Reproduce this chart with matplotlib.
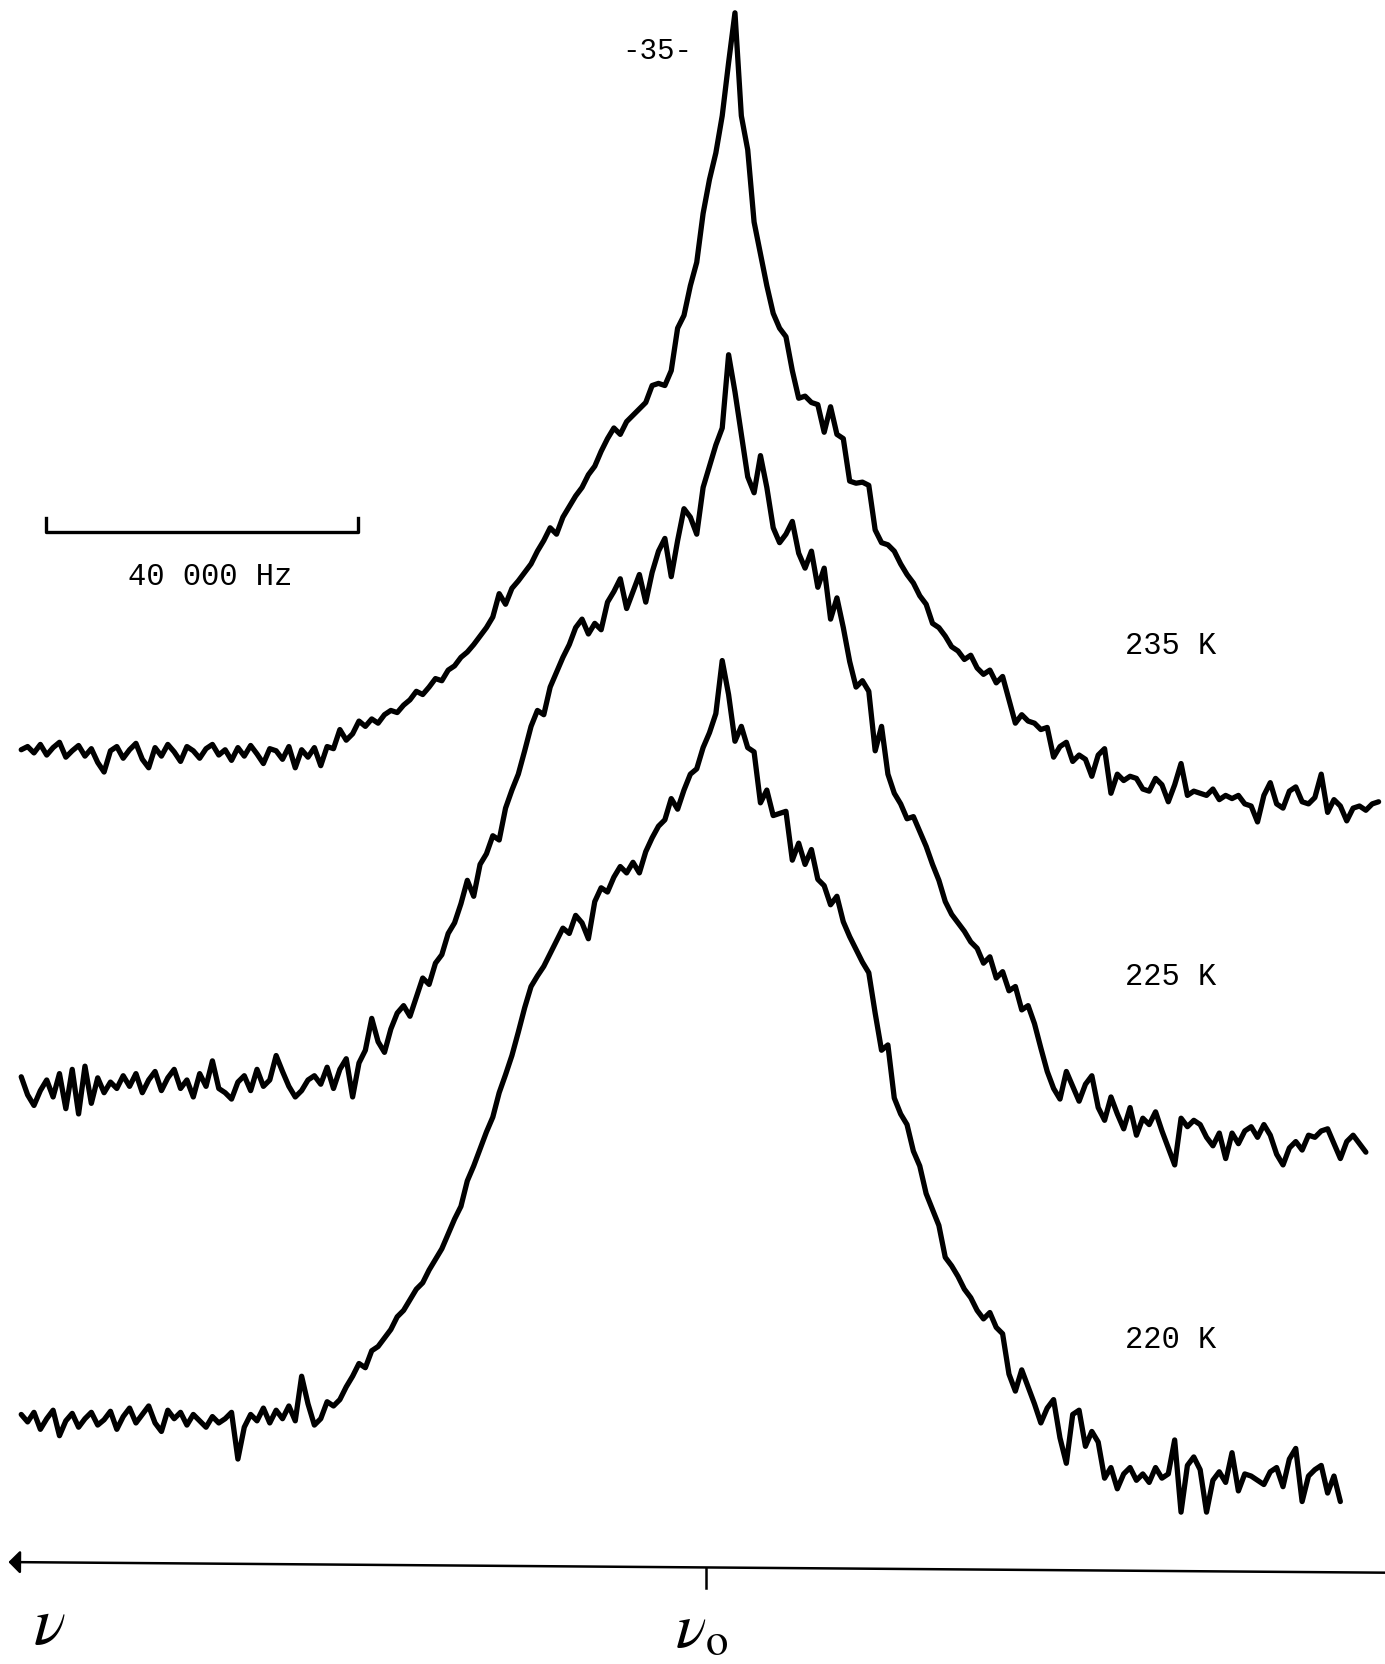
import numpy as np
import matplotlib.pyplot as plt

plt.rcParams['mathtext.fontset'] = 'stix'

# Spectra. Intensity in arbitrary units above each baseline,
# sampled on a uniform frequency grid (kHz, nu - nu0; nu grows to the left).
int_235 = [3, 6, 0, 8, -2, 5, 10, -4, 2, 7,
           -3, 4, -9, -18, 2, 6, -5, 3, 9, -6,
           -14, 5, -3, 8, 1, -8, 6, 2, -5, 4,
           8, -2, 3, -7, 5, -3, 7, -1, -10, 4,
           2, -6, 6, -14, 3, -4, 5, -12, 6, 4,
           22, 12, 18, 30, 25, 32, 28, 36, 40, 38,
           45, 50, 58, 55, 62, 70, 68, 78, 82, 90,
           95, 102, 110, 118, 128, 150, 140, 155, 162, 170,
           178, 190, 200, 212, 206, 222, 232, 242, 250, 262,
           270, 284, 296, 306, 300, 312, 318, 324, 330, 346,
           348, 346, 360, 400, 412, 440, 462, 508, 540, 565,
           600, 650, 697, 600, 568, 500, 470, 440, 414, 400,
           392, 360, 334, 336, 330, 328, 302, 326, 300, 296,
           256, 254, 255, 252, 210, 198, 196, 190, 178, 168,
           160, 148, 140, 122, 118, 110, 100, 96, 88, 92,
           80, 74, 78, 66, 72, 50, 28, 36, 30, 28,
           22, 24, -4, 6, 10, -8, -2, -6, -22, -2,
           4, -38, -20, -26, -22, -24, -34, -36, -24, -30,
           -46, -30, -10, -40, -36, -38, -40, -34, -44, -40,
           -43, -40, -48, -50, -65, -40, -28, -48, -52, -36,
           -32, -46, -48, -42, -20, -56, -44, -50, -64, -52,
           -50, -54, -48, -46]

int_225 = [5, -12, -22, -8, 2, -14, 8, -25, 12, -30,
           15, -20, 4, -10, 0, -6, 6, -4, 8, -10,
           2, 10, -8, 4, 12, -6, 2, -14, 8, -4,
           20, -6, -10, -16, 0, 6, -8, 12, -4, 2,
           25, 10, -4, -14, -8, 2, 6, -2, 14, -6,
           12, 22, -14, 18, 30, 60, 38, 28, 50, 65,
           72, 62, 80, 98, 92, 112, 120, 140, 150, 168,
           190, 175, 205, 215, 232, 228, 258, 275, 290, 312,
           335, 350, 346, 372, 386, 400, 412, 428, 436, 422,
           432, 426, 452, 462, 474, 446, 462, 478, 452, 480,
           500, 512, 476, 510, 540, 532, 516, 560, 580, 600,
           616, 685, 650, 610, 570, 555, 590, 560, 522, 508,
           516, 528, 498, 484, 500, 466, 484, 436, 456, 428,
           396, 372, 378, 368, 312, 335, 290, 272, 262, 248,
           250, 236, 222, 205, 190, 170, 158, 150, 142, 132,
           126, 112, 118, 98, 104, 86, 90, 68, 72, 55,
           32, 10, -6, -16, 10, -4, -18, -2, 6, -24,
           -36, -14, -30, -44, -24, -50, -34, -40, -28, -46,
           -62, -78, -34, -42, -36, -40, -52, -60, -48, -72,
           -48, -58, -46, -42, -52, -40, -50, -68, -78, -62,
           -56, -64, -50, -52, -46, -44, -58, -72, -56, -50,
           -58, -66]

int_220 = [2, -5, 4, -12, -2, 6, -18, -4, 3, -10,
           -2, 4, -8, -3, 5, -12, 0, 8, -6, 2,
           10, -6, -14, 6, -2, 4, -8, 2, -4, -10,
           0, -6, -2, 4, -40, -10, 2, -4, 8, -6,
           6, -2, 10, -4, 38, 12, -8, -2, 14, 10,
           16, 28, 38, 50, 46, 62, 66, 74, 82, 94,
           100, 110, 120, 126, 138, 148, 158, 172, 186, 198,
           222, 236, 252, 268, 282, 305, 322, 340, 362, 385,
           405, 415, 424, 436, 448, 460, 455, 472, 465, 450,
           485, 498, 494, 508, 518, 512, 522, 512, 532, 545,
           556, 562, 582, 572, 590, 605, 610, 630, 644, 662,
           712, 680, 636, 650, 630, 626, 578, 590, 566, 568,
           570, 524, 540, 520, 534, 506, 500, 482, 490, 466,
           452, 440, 428, 418, 380, 345, 350, 300, 285, 275,
           250, 236, 210, 195, 180, 150, 142, 132, 120, 112,
           100, 92, 98, 84, 78, 40, 24, 44, 28, 12,
           -6, 8, 16, -20, -44, 2, 6, -28, -14, -24,
           -58, -48, -68, -54, -48, -60, -54, -62, -48, -58,
           -54, -22, -90, -46, -38, -50, -90, -60, -52, -62,
           -34, -70, -54, -56, -60, -64, -52, -48, -66, -40,
           -30, -80, -56, -50, -46, -72, -56, -80]

spectra = [int_235, int_225, int_220]
temperatures = ['235 K', '225 K', '220 K']
freq_start = [87.76, 87.76, 87.76]     # kHz
freq_end = [-86.12, -84.49, -81.22]    # kHz
offsets = [760, 450, 135]
label_y = [862, 550, 208]

fig = plt.figure(figsize=(13.85, 16.65), dpi=100)
ax = fig.add_axes([0, 0, 1, 1])
ax.set_xlim(90.48, -86.94)
ax.set_ylim(-98, 1470)
ax.axis('off')

for y, f0, f1, off, lab, ly in zip(spectra, freq_start, freq_end, offsets, temperatures, label_y):
    x = np.linspace(f0, f1, len(y))
    ax.plot(x, np.array(y) + off, color='black', lw=3.8,
            solid_joinstyle='round', solid_capstyle='round')
    ax.text(-59.5, ly, lab, family='Liberation Mono', fontsize=22,
            ha='center', va='center')

# 40 kHz scale bar
ax.plot([84.63, 84.63, 44.63, 44.63], [981, 968, 968, 981], color='black', lw=2.4)
ax.text(63.5, 927, '40 000 Hz', family='Liberation Mono', fontsize=22,
        ha='center', va='center')

# page number
ax.text(6.3, 1422, '-35-', family='Liberation Mono', fontsize=21,
        ha='center', va='center')

# frequency axis, arrow pointing to higher nu
ax.annotate('', xy=(89.4, -2), xytext=(-86.94, -12),
            arrowprops=dict(arrowstyle='-|>,head_length=0.5,head_width=0.5',
                            mutation_scale=14, color='black', lw=1.8,
                            shrinkA=0, shrinkB=0))
ax.plot([0, 0], [-8, -26], color='black', lw=1.8)
ax.text(84.2, -60, r'$\nu$', fontsize=48, ha='center', va='center')
ax.text(0.6, -64, r'$\nu_{\mathrm{o}}$', fontsize=46, ha='center', va='center')

fig.savefig('out.png', dpi=100, facecolor='white')
